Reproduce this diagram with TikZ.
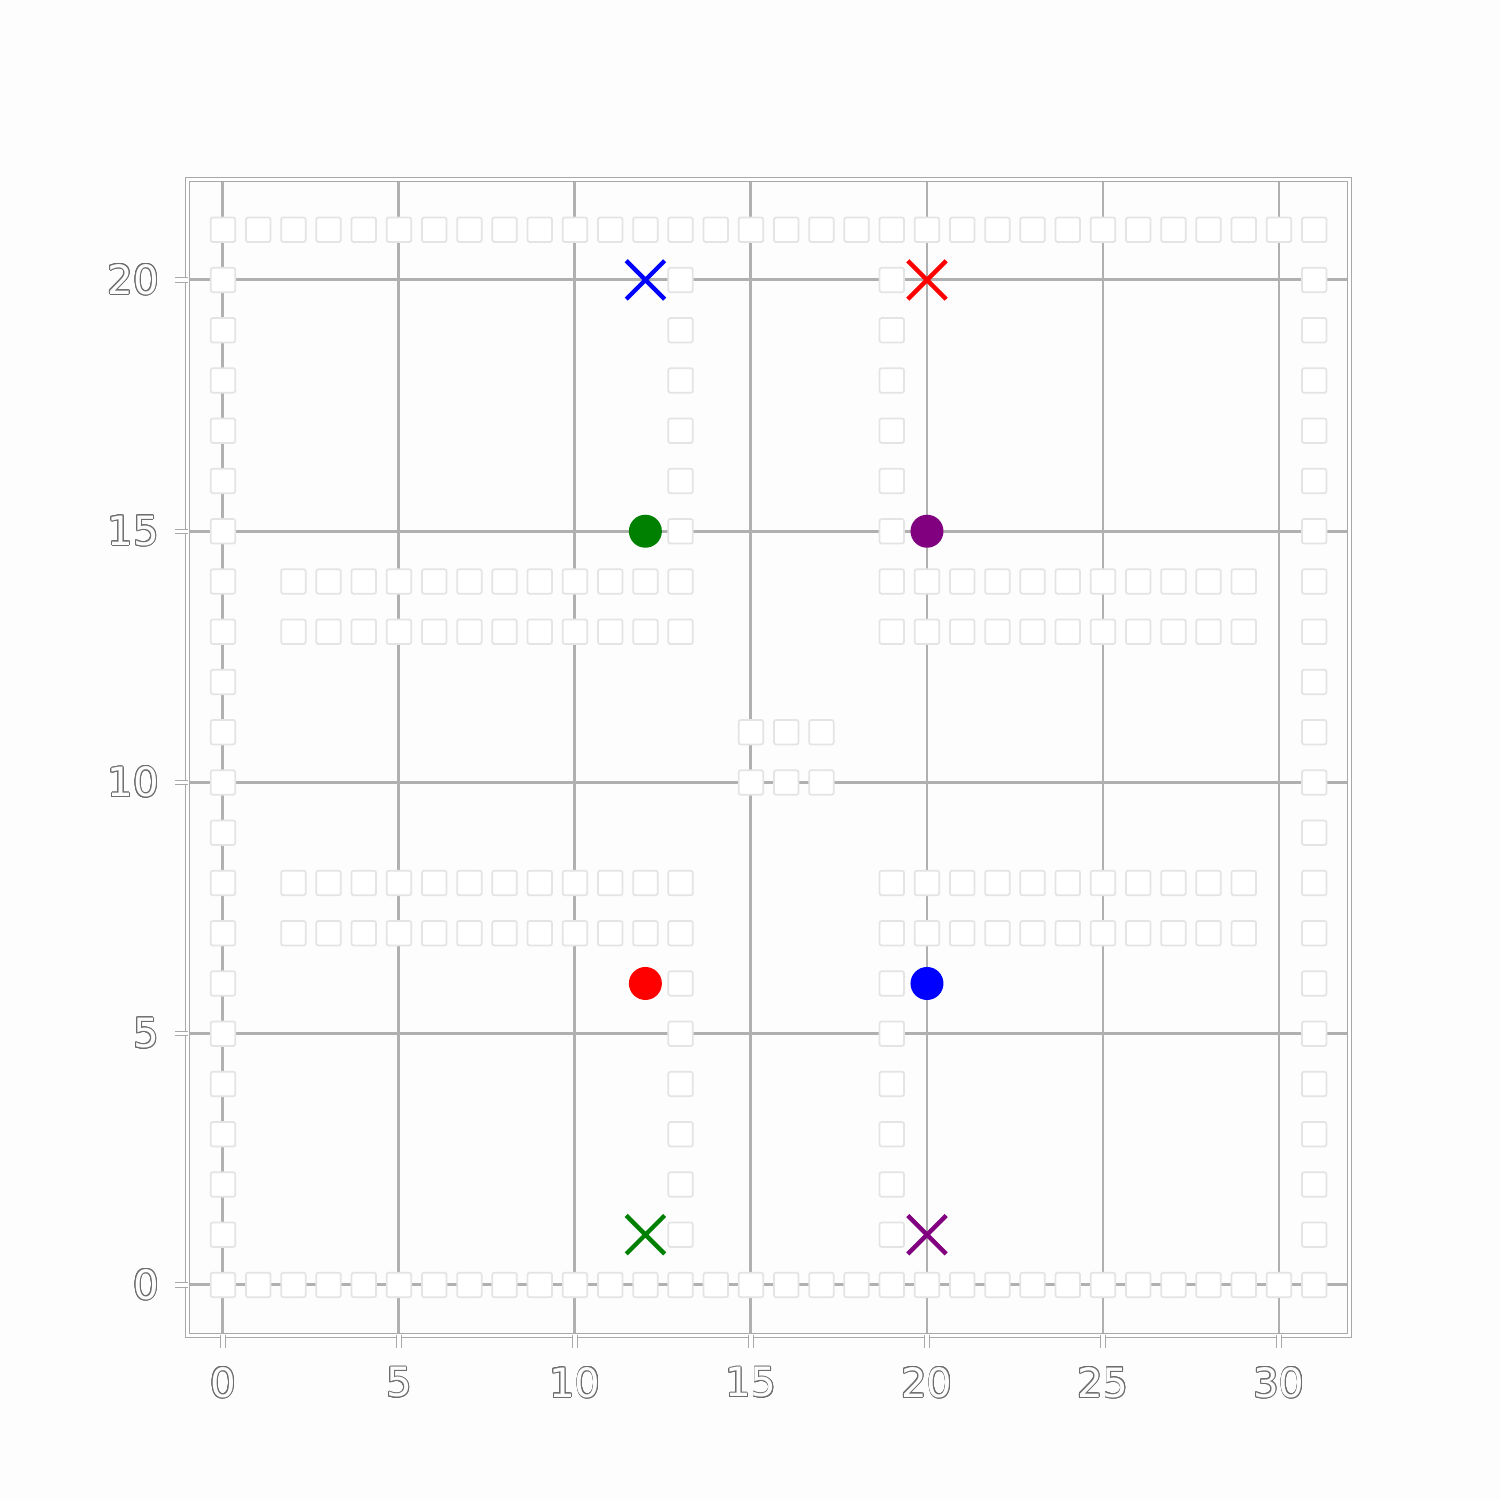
\documentclass[tikz,border=0pt]{standalone}
\usepackage{fontspec}
\setmainfont{DejaVu Sans}
\usepackage{xcolor}
\usepackage[copies]{contour}
\contourlength{0.28pt}
\contournumber{16}
\usetikzlibrary{shapes.misc}
\definecolor{gridgray}{HTML}{B0B0B0}
\definecolor{wallline}{HTML}{E4E4E4}
\definecolor{edgegray}{HTML}{A8A8A8}
\definecolor{paper}{HTML}{FDFDFD}
\definecolor{mgreen}{HTML}{008000}
\definecolor{mpurple}{HTML}{800080}
\newcommand{\hollowtxt}[1]{\contour{edgegray!65!black}{\textcolor{paper}{#1}}}
\tikzset{
  wall/.style={rectangle,draw=wallline,fill=white,rounded corners=0.6pt,
    minimum size=2.45mm,inner sep=0pt,line width=0.5pt},
  gridln/.style={draw=gridgray,line width=0.85pt},
  rim/.style={draw=edgegray,double=white,double distance=0.9pt,line width=0.3pt},
  goalx/.style={cross out,draw=#1,line width=1.25pt,minimum size=3.4mm,inner sep=0pt},
  startdot/.style={circle,fill=#1,minimum size=3.3mm,inner sep=0pt},
  ticklbl/.style={font=\fontsize{11.5}{12}\selectfont,inner sep=0pt},
}

\begin{document}
\begin{tikzpicture}[x=3.52mm,y=5.025mm]
  \fill[paper] (-6.335,-4.279) rectangle (36.278,25.572);
  \useasboundingbox (-6.335,-4.279) rectangle (36.278,25.572);
  % grid
  \foreach \gx in {0,5,...,30} \draw[gridln] (\gx,-1) -- (\gx,22);
  \foreach \gy in {0,5,...,20} \draw[gridln] (-1,\gy) -- (32,\gy);
  % axes
  \draw[rim] (-1,-1) rectangle (32,22);
  \foreach \gx in {0,5,...,30} {
    \draw[rim] (\gx,-1) -- ++(0,-0.25);
    \node[ticklbl] (xl\gx) at (\gx,-1.95) {\hollowtxt{\gx}};
  }
  \foreach \gy in {0,5,...,20} {
    \draw[rim] (-1,\gy) -- ++(-0.35,0);
    \node[ticklbl,anchor=east] (yl\gy) at (-1.8,\gy) {\hollowtxt{\gy}};
  }
  % walls
  \foreach \wx in {0,...,31} {
    \node[wall] (w\wx-0) at (\wx,0) {};
    \node[wall] (w\wx-21) at (\wx,21) {};
  }
  \foreach \wy in {1,...,20} {
    \node[wall] (w0-\wy) at (0,\wy) {};
    \node[wall] (w31-\wy) at (31,\wy) {};
  }
  \foreach \wy in {1,2,...,8,13,14,...,20} {
    \node[wall] (w13-\wy) at (13,\wy) {};
    \node[wall] (w19-\wy) at (19,\wy) {};
  }
  \foreach \wy in {7,8,13,14} {
    \foreach \wx in {2,...,12} \node[wall] (w\wx-\wy) at (\wx,\wy) {};
    \foreach \wx in {20,...,29} \node[wall] (w\wx-\wy) at (\wx,\wy) {};
  }
  \foreach \wx in {15,16,17} {
    \node[wall] (w\wx-10) at (\wx,10) {};
    \node[wall] (w\wx-11) at (\wx,11) {};
  }
  % agents and goals
  \node[startdot=mgreen] (agreen) at (12,15) {};
  \node[startdot=mpurple] (apurple) at (20,15) {};
  \node[startdot=red] (ared) at (12,6) {};
  \node[startdot=blue] (ablue) at (20,6) {};
  \node[goalx=blue] (gblue) at (12,20) {};
  \node[goalx=red] (gred) at (20,20) {};
  \node[goalx=mgreen] (ggreen) at (12,1) {};
  \node[goalx=mpurple] (gpurple) at (20,1) {};
\end{tikzpicture}
\end{document}
